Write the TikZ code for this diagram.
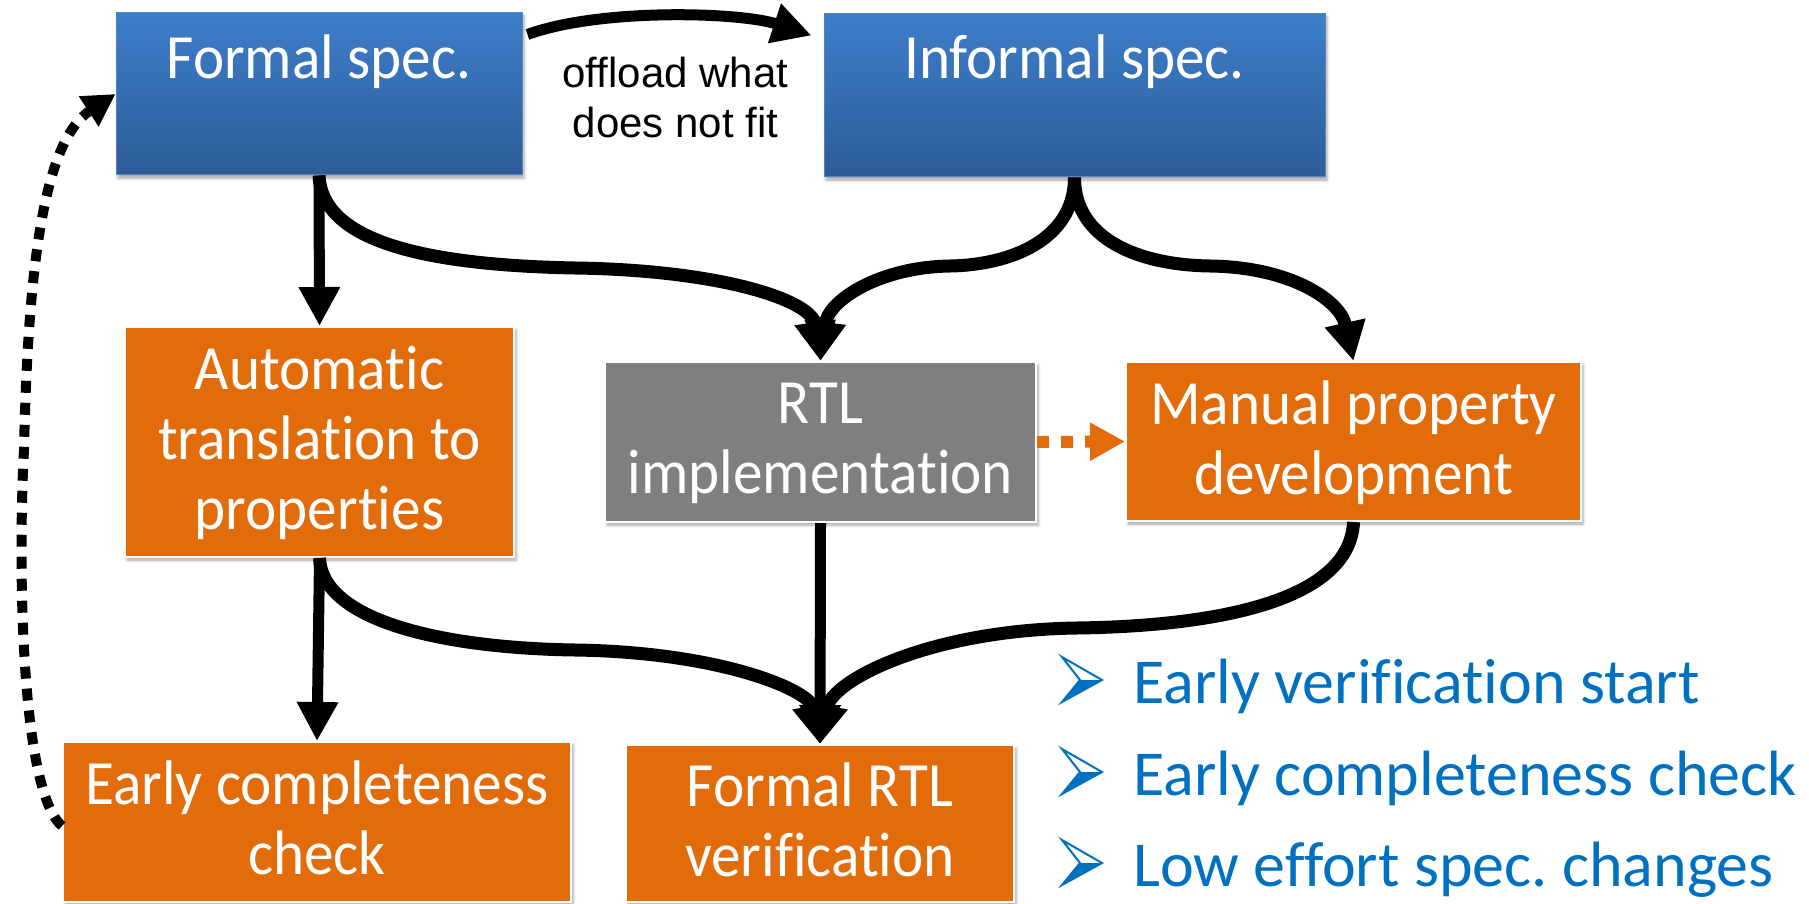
\documentclass[tikz,border=0pt]{standalone}
\usepackage{fontspec}
\setmainfont{Carlito}[Ligatures=NoCommon]
\newfontfamily\boxfont{Carlito}[Ligatures=NoCommon, FakeStretch=0.94]
\newfontfamily\labelfont{Liberation Sans}
\usetikzlibrary{arrows.meta,shadows.blur,calc}
\frenchspacing

\definecolor{specblueT}{RGB}{61,126,202}
\definecolor{specblueB}{RGB}{45,92,152}
\definecolor{specedge}{RGB}{86,132,190}
\definecolor{taskorange}{RGB}{227,108,10}
\definecolor{implgray}{RGB}{127,127,127}
\definecolor{noteblue}{RGB}{0,112,192}

\tikzset{
  softshadow/.style={blur shadow={shadow xshift=2pt, shadow yshift=-3pt,
      shadow blur radius=3pt, shadow opacity=35}},
  specbox/.style={draw=specedge, line width=1pt, top color=specblueT,
      bottom color=specblueB, inner sep=0pt, softshadow},
  workbox/.style={draw=white, line width=2pt, fill=taskorange, inner sep=0pt, softshadow},
  implbox/.style={workbox, fill=implgray},
  % multi-line texts are placed by the baseline of their last line
  boxtext/.style={text=white, font=\boxfont\fontsize{63}{70}\selectfont, align=center,
      anchor=base, inner sep=0pt},
  flow/.style={line width=11pt, -{Triangle[length=39pt,width=39pt]}},
  curveflow/.style={flow, line width=13pt},
  feedback/.style={line width=10pt, dash pattern=on 12pt off 10pt,
      -{Triangle[length=32pt,width=34pt]}},
  hint/.style={draw=taskorange, line width=12pt, dash pattern=on 12pt off 12pt,
      -{Triangle[length=35pt,width=36pt]}},
  note/.style={font=\labelfont\fontsize{42}{50}\selectfont, align=center,
      anchor=base, inner sep=0pt},
  point/.style={text=noteblue, font=\fontsize{64}{70}\selectfont,
      anchor=base west, inner sep=0pt}
}

\begin{document}
\begin{tikzpicture}[x=1pt, y=-1pt]
\useasboundingbox (0,0) rectangle (1809,904);

% specification boxes
\node[specbox, minimum width=406pt, minimum height=162pt] (formal) at (319,94) {};
\node[specbox, minimum width=501pt, minimum height=163pt] (informal) at (1074.5,95.5) {};
\node[boxtext] (formal-t) at (319,79) {Formal spec.};
\node[boxtext] (informal-t) at (1074.5,79) {Informal spec.};

% middle row
\node[workbox, minimum width=389pt, minimum height=230pt] (auto) at (319.5,442) {};
\node[implbox, minimum width=431pt, minimum height=160pt] (rtl) at (820.5,442) {};
\node[workbox, minimum width=455pt, minimum height=159pt] (manual) at (1353.5,441.5) {};
\node[boxtext] (auto-t) at (319.5,529) {Automatic\\translation to\\properties};
\node[boxtext] (rtl-t) at (820.5,493) {RTL\\implementation};
\node[boxtext] (manual-t) at (1353.5,494) {Manual property\\development};

% bottom row
\node[workbox, minimum width=508pt, minimum height=160pt] (early) at (317,822) {};
\node[workbox, minimum width=388pt, minimum height=157pt] (frtl) at (820,823.5) {};
\node[boxtext] (early-t) at (317,874) {Early completeness\\check};
\node[boxtext] (frtl-t) at (820,876) {Formal RTL\\verification};

% offloading arrow and its label
\draw[flow] ($(formal.north east)+(5,22)$) .. controls (600,8) and (740,12)
      .. ($(informal.north west)+(-12,22)$);
\node[note] (offload) at (675.5,138) {offload what\\does not fit};

% straight flows
\draw[flow] (formal.south) -- (auto.north);
\draw[flow] (auto.south) -- (early.north);
\draw[flow] (rtl.south) -- (frtl.north);

% curved flows
\draw[curveflow] (formal.south) .. controls (322,240) and (420,265) .. (575,268)
      .. controls (720,270) and (812,300) .. (rtl.north);
\draw[curveflow] (informal.south) .. controls (1074.5,240) and (1010,265) .. (950,266)
      .. controls (880,267) and (828,300) .. (rtl.north);
\draw[curveflow] (informal.south) .. controls (1074.5,240) and (1140,265) .. (1210,266)
      .. controls (1290,267) and (1340,300) .. (manual.north);
\draw[curveflow] (auto.south) .. controls (322,620) and (440,648) .. (575,650)
      .. controls (720,652) and (810,690) .. (frtl.north);
\draw[curveflow] (manual.south) .. controls (1350,600) and (1220,626) .. (1077,628)
      .. controls (930,630) and (832,680) .. (frtl.north);

% RTL hint towards manual properties
\draw[hint] (rtl.east) -- (manual.west);

% feedback from the completeness check
\draw[feedback] ($(early.west)+(0,4)$) .. controls (20,790) and (18,560) .. (24,450)
      .. controls (28,260) and (45,140) .. (formal.west);

% benefits list
\node[point] (p1) at (1133,703) {Early verification start};
\node[point] (p2) at (1133,795) {Early completeness check};
\node[point] (p3) at (1133,886) {Low effort spec. changes};
\foreach \p in {p1,p2,p3} {
  \fill[noteblue] ($(\p.base west)+(-71,-1)$) -- ($(\p.base west)+(-53,-23)$)
      -- ($(\p.base west)+(-31,-23)$) -- cycle;
  \draw[noteblue, line width=2pt, line join=miter]
      ($(\p.base west)+(-71,-46)$) -- ($(\p.base west)+(-31,-23)$)
      -- ($(\p.base west)+(-71,-1)$) -- ($(\p.base west)+(-53,-23)$) -- cycle;
}
\end{tikzpicture}
\end{document}
